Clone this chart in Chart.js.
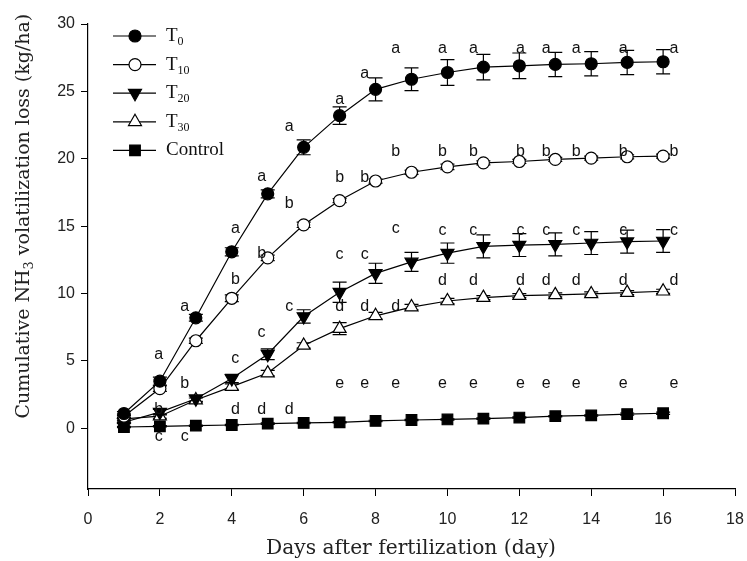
<!DOCTYPE html>
<html>
<head>
<meta charset="utf-8">
<script src="https://cdn.jsdelivr.net/npm/chart.js@4.4.1/dist/chart.umd.min.js"></script>
<style>
  html, body { margin: 0; padding: 0; background: #fff; }
  #wrap { width: 747px; height: 561px; position: relative; }
</style>
</head>
<body>
<div id="wrap"><canvas id="chart"></canvas></div>
<script>
// days after fertilization
const days = [1, 2, 3, 4, 5, 6, 7, 8, 9, 10, 11, 12, 13, 14, 15, 16];

// cumulative NH3 loss (kg/ha) and standard errors
const t0 = [1.1, 3.5, 8.2, 13.1, 17.4, 20.85, 23.2, 25.15, 25.9, 26.4, 26.8, 26.9, 27.0, 27.05, 27.15, 27.2];
const t0Err = [0.15, 0.3, 0.25, 0.3, 0.3, 0.55, 0.65, 0.85, 0.85, 0.95, 0.95, 0.95, 0.9, 0.9, 0.9, 0.9];
const t10 = [0.9, 2.95, 6.5, 9.65, 12.65, 15.1, 16.9, 18.35, 19.0, 19.4, 19.7, 19.8, 19.95, 20.05, 20.15, 20.2];
const t10Err = [0.15, 0.2, 0.2, 0.25, 0.2, 0.2, 0.15, 0.15, 0.15, 0.2, 0.15, 0.15, 0.15, 0.15, 0.15, 0.15];
const t20 = [0.45, 1.2, 2.2, 3.7, 5.5, 8.3, 10.1, 11.5, 12.35, 13.0, 13.5, 13.6, 13.65, 13.75, 13.85, 13.9];
const t20Err = [0.1, 0.2, 0.2, 0.3, 0.4, 0.5, 0.75, 0.75, 0.7, 0.75, 0.85, 0.85, 0.85, 0.85, 0.85, 0.85];
const t30 = [0.7, 0.9, 2.1, 3.1, 4.1, 6.15, 7.4, 8.35, 9.0, 9.45, 9.7, 9.85, 9.9, 9.97, 10.07, 10.17];
const t30Err = [0.1, 0.15, 0.15, 0.2, 0.2, 0.2, 0.45, 0.25, 0.2, 0.2, 0.15, 0.15, 0.15, 0.15, 0.15, 0.15];
const control = [0.1, 0.15, 0.2, 0.25, 0.35, 0.4, 0.45, 0.55, 0.62, 0.66, 0.72, 0.8, 0.9, 0.96, 1.06, 1.12];
const controlErr = [0.05, 0.05, 0.05, 0.05, 0.05, 0.05, 0.05, 0.05, 0.05, 0.05, 0.05, 0.05, 0.05, 0.05, 0.08, 0.08];

const xTicks = [0, 2, 4, 6, 8, 10, 12, 14, 16, 18];
const yTicks = [0, 5, 10, 15, 20, 25, 30];

// significance letters: columns (day) and height of each letter (kg/ha)
const letterCols = [1.97, 2.69, 4.1, 4.83, 5.6, 7.0, 7.7, 8.56, 9.86, 10.72, 12.03, 12.75, 13.58, 14.89, 16.3];
const letterA = [5.5, 9.05, 14.8, 18.7, 22.4, 24.4, 26.3, 28.15, 28.15, 28.15, 28.15, 28.15, 28.15, 28.15, 28.15];
const letterB = [1.4, 3.3, 11.0, 12.96, 16.7, 18.6, 18.6, 20.5, 20.5, 20.5, 20.5, 20.5, 20.5, 20.5, 20.5];
const letterC = [-0.6, -0.6, 5.2, 7.1, 9.0, 12.9, 12.9, 14.8, 14.7, 14.7, 14.7, 14.7, 14.7, 14.7, 14.7];
const letterD = [null, null, 1.4, 1.4, 1.4, 9.0, 9.0, 9.0, 10.96, 10.96, 10.96, 10.96, 10.96, 10.96, 10.96];
const letterE = [null, null, null, null, null, 3.3, 3.3, 3.3, 3.3, 3.3, 3.3, 3.3, 3.3, 3.3, 3.3];

const series = [
  { name: 'T', sub: '0', values: t0, err: t0Err, style: 'circle', fill: '#000', radius: 6, rot: 0 },
  { name: 'T', sub: '10', values: t10, err: t10Err, style: 'circle', fill: '#fff', radius: 6, rot: 0 },
  { name: 'T', sub: '20', values: t20, err: t20Err, style: 'triangle', fill: '#000', radius: 7.5, rot: 180 },
  { name: 'T', sub: '30', values: t30, err: t30Err, style: 'triangle', fill: '#fff', radius: 7.5, rot: 0 },
  { name: 'Control', sub: '', values: control, err: controlErr, style: 'rect', fill: '#000', radius: 7.5, rot: 0 }
];

const datasets = series.map(s => ({
  label: s.name + s.sub,
  data: days.map((d, i) => ({ x: d, y: s.values[i] })),
  borderColor: '#000',
  borderWidth: 1.2,
  pointStyle: s.style,
  pointRadius: s.radius,
  pointRotation: s.rot,
  pointBackgroundColor: s.fill,
  pointBorderColor: '#000',
  pointBorderWidth: 1.2,
  tension: 0,
  fill: false
}));

const SERIF = '"DejaVu Serif", "Liberation Serif", serif';

const errorBars = {
  id: 'errorBars',
  beforeDatasetsDraw(chart) {
    const { ctx, scales: { x, y } } = chart;
    ctx.save();
    ctx.strokeStyle = '#000';
    ctx.lineWidth = 1.2;
    series.forEach(s => {
      days.forEach((d, i) => {
        const px = x.getPixelForValue(d);
        const top = y.getPixelForValue(s.values[i] + s.err[i]);
        const bot = y.getPixelForValue(s.values[i] - s.err[i]);
        ctx.beginPath();
        ctx.moveTo(px, top); ctx.lineTo(px, bot);
        ctx.moveTo(px - 7, top); ctx.lineTo(px + 7, top);
        ctx.moveTo(px - 7, bot); ctx.lineTo(px + 7, bot);
        ctx.stroke();
      });
    });
    ctx.restore();
  }
};

const letters = {
  id: 'letters',
  afterDatasetsDraw(chart) {
    const { ctx, scales: { x, y } } = chart;
    ctx.save();
    ctx.fillStyle = '#111';
    ctx.font = '16px "Liberation Sans", Arial, sans-serif';
    ctx.textAlign = 'center';
    ctx.textBaseline = 'middle';
    [['a', letterA], ['b', letterB], ['c', letterC], ['d', letterD], ['e', letterE]].forEach(([ch, arr]) => {
      arr.forEach((v, i) => {
        if (v === null) return;
        ctx.fillText(ch, x.getPixelForValue(letterCols[i]), y.getPixelForValue(v));
      });
    });
    ctx.restore();
  }
};

// draws text with optional subscript parts, scaled so total width = target
function drawFitText(ctx, parts, x, y, target) {
  const widthAt = size => parts.reduce((w, [t, sub]) => {
    ctx.font = (sub ? size * 0.68 : size) + 'px ' + SERIF;
    return w + ctx.measureText(t).width;
  }, 0);
  const size = 20 * target / widthAt(20);
  let cx = x - target / 2;
  parts.forEach(([t, sub]) => {
    ctx.font = (sub ? size * 0.68 : size) + 'px ' + SERIF;
    ctx.fillText(t, cx, y + (sub ? size * 0.3 : 0));
    cx += ctx.measureText(t).width;
  });
}

const decorations = {
  id: 'decorations',
  afterDraw(chart) {
    const { ctx } = chart;
    ctx.save();
    ctx.fillStyle = '#222';
    ctx.textAlign = 'left';
    ctx.textBaseline = 'middle';

    // axis titles
    drawFitText(ctx, [['Days after fertilization (day)', false]], 411, 549, 290);
    ctx.save();
    ctx.translate(24, 216);
    ctx.rotate(-Math.PI / 2);
    drawFitText(ctx, [['Cumulative NH', false], ['3', true], [' volatilization loss (kg/ha)', false]], 0, 0, 405);
    ctx.restore();

    // legend
    series.forEach((s, i) => {
      const ly = 36 + i * 28.6;
      ctx.strokeStyle = '#000';
      ctx.lineWidth = 1.2;
      ctx.beginPath();
      ctx.moveTo(113, ly); ctx.lineTo(156, ly);
      ctx.stroke();
      ctx.fillStyle = s.fill;
      Chart.helpers.drawPoint(ctx, { pointStyle: s.style, radius: s.radius, rotation: s.rot, borderWidth: 1.2 }, 135, ly);
      ctx.fillStyle = '#111';
      ctx.font = '19px "Liberation Serif", "Times New Roman", serif';
      ctx.fillText(s.name, 166, ly);
      if (s.sub) {
        const w = ctx.measureText(s.name).width;
        ctx.font = '12px "Liberation Serif", "Times New Roman", serif';
        ctx.fillText(s.sub, 166 + w, ly + 6);
      }
    });
    ctx.restore();
  }
};

new Chart(document.getElementById('chart'), {
  type: 'line',
  data: { datasets: datasets },
  options: {
    responsive: true,
    maintainAspectRatio: false,
    animation: false,
    layout: { padding: { top: 24, right: 12, left: 0, bottom: 0 } },
    plugins: {
      legend: { display: false },
      tooltip: { enabled: false }
    },
    scales: {
      x: {
        type: 'linear',
        min: 0,
        max: 18,
        afterBuildTicks: scale => { scale.ticks = xTicks.map(v => ({ value: v })); },
        afterFit: scale => { scale.height = 72; scale.paddingLeft = 0; scale.paddingRight = 0; },
        grid: { drawOnChartArea: false, drawTicks: true, tickLength: 7, color: '#000' },
        border: { display: true, color: '#000', width: 1.2 },
        ticks: { color: '#222', padding: 14, maxRotation: 0, font: { family: '"Liberation Sans", Arial, sans-serif', size: 16 } }
      },
      y: {
        type: 'linear',
        min: -4.5,
        max: 30,
        afterBuildTicks: scale => { scale.ticks = yTicks.map(v => ({ value: v })); },
        afterFit: scale => { scale.width = 88; scale.paddingTop = 0; scale.paddingBottom = 0; },
        grid: { drawOnChartArea: false, drawTicks: true, tickLength: 7, color: '#000' },
        border: { display: true, color: '#000', width: 1.2 },
        ticks: { color: '#222', padding: 6, font: { family: '"Liberation Sans", Arial, sans-serif', size: 16 } }
      }
    }
  },
  plugins: [errorBars, letters, decorations]
});
</script>
</body>
</html>
